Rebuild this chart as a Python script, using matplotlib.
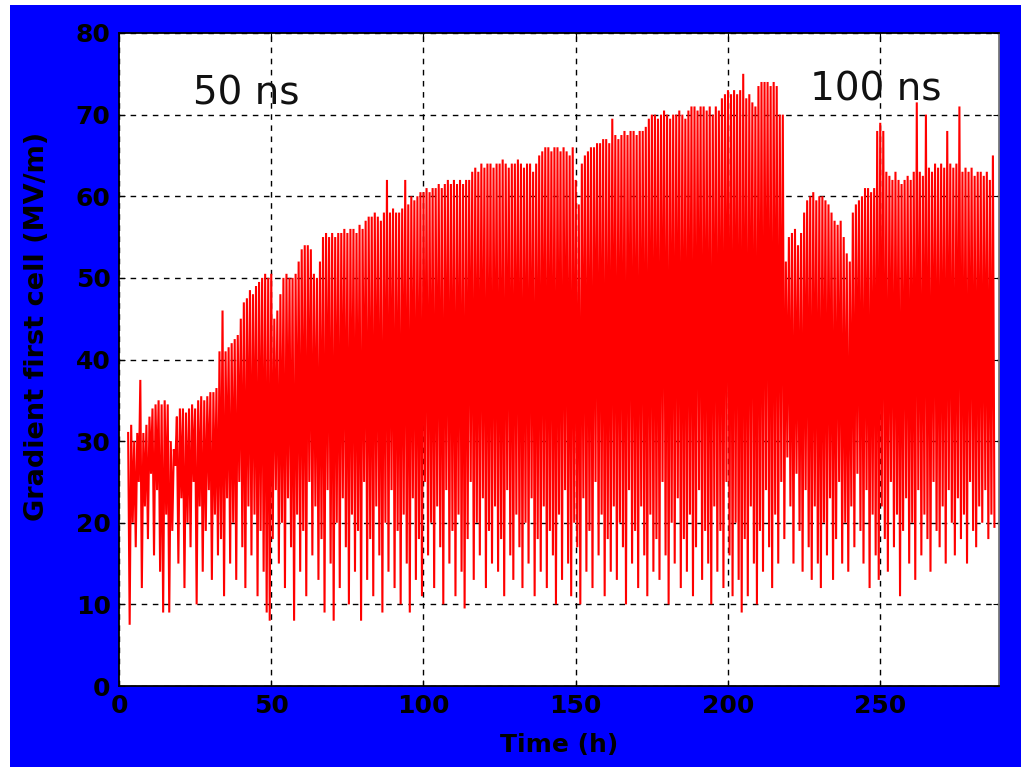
import numpy as np
import matplotlib.pyplot as plt
from matplotlib.patches import Rectangle

# hourly readings, t = 3 ... 287 h
start_hour = 3

# top of each hourly burst (MV/m)
upper = [
    31, 32, 30, 31, 37.5, 31, 32, 33, 34, 34.5,
    35, 34.5, 35, 34.5, 30, 29, 33, 34, 34, 33.5,
    34, 34.5, 34, 35, 35.5, 35, 35.5, 36, 36, 36.5,
    41, 46, 41, 41.5, 42, 42.5, 43, 45, 47, 47.5,
    48.5, 48, 49, 49.5, 50, 50.5, 50, 50.5, 45, 46,
    48, 50, 50.5, 50, 50, 50.5, 52, 53.5, 54, 54,
    53.5, 50.5, 50, 52, 55, 55.5, 55, 55.5, 55, 55.5,
    55.5, 56, 55.5, 56, 56, 55.5, 56.5, 56, 57, 57.5,
    57.5, 58, 57.5, 57, 58, 62, 58, 58.5, 58, 58,
    58.5, 62, 59, 60, 59.5, 60, 60.5, 60.5, 61, 60.5,
    61, 61, 61.5, 61, 61.5, 62, 61.5, 62, 61.5, 62,
    61.5, 62, 62, 63, 63.5, 63, 64, 63.5, 64, 64,
    63.5, 64, 64, 64.5, 64, 63.5, 64, 64, 64.5, 64,
    63.5, 64, 64, 63, 64, 65, 65.5, 66, 66, 65.5,
    66, 66, 65.5, 66, 65.5, 65, 66, 62, 59, 64,
    65, 65.5, 66, 66, 66.5, 66.5, 67, 67, 66.5, 69.5,
    67.5, 67, 67.5, 68, 67.5, 68, 68, 67.5, 68, 68,
    68.5, 69.5, 70, 70, 69.5, 70, 70.5, 70, 69.5, 70,
    70, 70.5, 70, 69.5, 70.5, 71, 71, 70.5, 71, 71,
    70.5, 71, 70, 71, 70.5, 72, 72.5, 73, 72.5, 73,
    72.5, 73, 75, 72, 72.5, 71.5, 71, 73.5, 74, 74,
    74, 73.5, 74, 73.5, 70, 70, 52, 55, 55.5, 56,
    54, 55.5, 58, 59.5, 60, 60.5, 59.5, 60, 60, 59.5,
    59, 58, 57, 56.5, 57, 55, 53, 52, 58, 59,
    59.5, 60, 61, 61, 60.5, 61, 68, 69, 68, 63,
    62.5, 62, 63, 62, 61.5, 62, 62.5, 62, 63, 71.5,
    63, 62.5, 70, 63.5, 63, 64, 63.5, 64, 63.5, 68,
    64, 63.5, 64, 71, 63, 63.5, 63, 63.5, 62.5, 63,
    63, 62.5, 63, 62, 65,
]

# bottom of each trip dip (MV/m)
lower = [
    7.5, 20, 17, 25, 12, 22, 18, 26, 16, 24,
    14, 9, 21, 9, 19, 27, 15, 23, 12, 20,
    17, 25, 10, 22, 14, 19, 24, 13, 21, 16,
    18, 11, 23, 15, 20, 13, 25, 17, 12, 22,
    16, 21, 11, 19, 14, 9, 8, 18, 24, 15,
    20, 12, 23, 17, 8, 21, 14, 19, 11, 25,
    16, 22, 13, 18, 9, 24, 15, 8, 20, 12,
    23, 17, 10, 21, 14, 19, 8, 25, 13, 18,
    11, 22, 16, 9, 20, 14, 24, 12, 19, 10,
    21, 15, 9, 23, 13, 18, 11, 25, 16, 20,
    12, 22, 17, 10, 24, 15, 19, 11, 21, 14,
    9.5, 18, 25, 13, 20, 16, 23, 12, 19, 15,
    22, 14, 18, 11, 24, 16, 13, 21, 17, 12,
    20, 15, 23, 11, 18, 14, 22, 12, 19, 16,
    10, 21, 13, 24, 15, 11, 20, 17, 10, 23,
    14, 19, 12, 25, 16, 21, 11, 18, 14, 22,
    13, 20, 17, 10, 24, 15, 19, 12, 22, 16,
    11, 21, 14, 18, 13, 25, 16, 10, 20, 15,
    23, 12, 18, 14, 21, 11, 17, 24, 13, 19,
    15, 10, 22, 14, 19, 12, 25, 16, 11, 20,
    13, 9, 18, 11, 22, 15, 10, 19, 14, 24,
    17, 12, 21, 15, 25, 18, 28, 22, 15, 26,
    19, 14, 24, 17, 13, 22, 15, 12, 20, 16,
    23, 13, 18, 25, 15, 20, 14, 22, 17, 26,
    19, 15, 24, 12, 21, 16, 13, 22, 18, 14,
    25, 17, 21, 11, 19, 23, 15, 20, 13, 24,
    16, 21, 18, 14, 25, 19, 17, 22, 15, 24,
    20, 16, 23, 18, 21, 15, 25, 19, 17, 22,
    20, 24, 18, 21, 19.5,
]

x_ticks = [0, 50, 100, 150, 200, 250]
y_ticks = [0, 10, 20, 30, 40, 50, 60, 70, 80]
labels = ['50 ns', '100 ns']

# put top and dip of each hour one after the other
hours = start_hour + np.arange(len(upper))
t = np.empty(2 * len(upper))
g = np.empty(2 * len(upper))
t[0::2] = hours
t[1::2] = hours + 0.5
g[0::2] = upper
g[1::2] = lower

W, H = 1021, 767
fig = plt.figure(figsize=(W / 100, H / 100), dpi=100, facecolor='white')
bg = Rectangle((10 / W, 0), 1, (H - 5) / H, transform=fig.transFigure,
               facecolor='#0000FF', edgecolor='none', zorder=-10)
fig.add_artist(bg)

ax = fig.add_axes([119 / W, (H - 686) / H, (999 - 119) / W, (686 - 33) / H])
ax.set_zorder(1)
ax.set_facecolor('white')
ax.plot(t, g, color='#FF0000', lw=1.5, zorder=3, solid_joinstyle='miter')

ax.set_xlim(0, 289)
ax.set_ylim(0, 80)
ax.set_xticks(x_ticks)
ax.set_yticks(y_ticks)
ax.grid(True, color='black', linestyle=(0, (4, 4)), lw=1)
ax.tick_params(direction='in', length=4, top=True, right=True, labelsize=18,
               colors='black', pad=6)
for lab in ax.get_xticklabels() + ax.get_yticklabels():
    lab.set_fontweight('bold')
    lab.set_family('DejaVu Sans')
for s in ax.spines.values():
    s.set_color('black')
    s.set_linewidth(1.3)
ax.spines['right'].set_color('#777777')

ax.set_xlabel('Time (h)', fontsize=18, fontweight='bold', family='DejaVu Sans',
              color='black')
ax.xaxis.set_label_coords(0.5, -0.072)
ax.set_ylabel('Gradient first cell (MV/m)', fontsize=19.5, fontweight='bold',
              family='DejaVu Sans', color='black')
ax.yaxis.set_label_coords(-0.078, 0.55)

ax.text(24.3, 71.2, labels[0], fontsize=28, family='DejaVu Sans', color='#111111', zorder=5)
ax.text(227, 71.7, labels[1], fontsize=28, family='DejaVu Sans', color='#111111', zorder=5)

plt.savefig('out.png', dpi=100, facecolor=fig.get_facecolor())
